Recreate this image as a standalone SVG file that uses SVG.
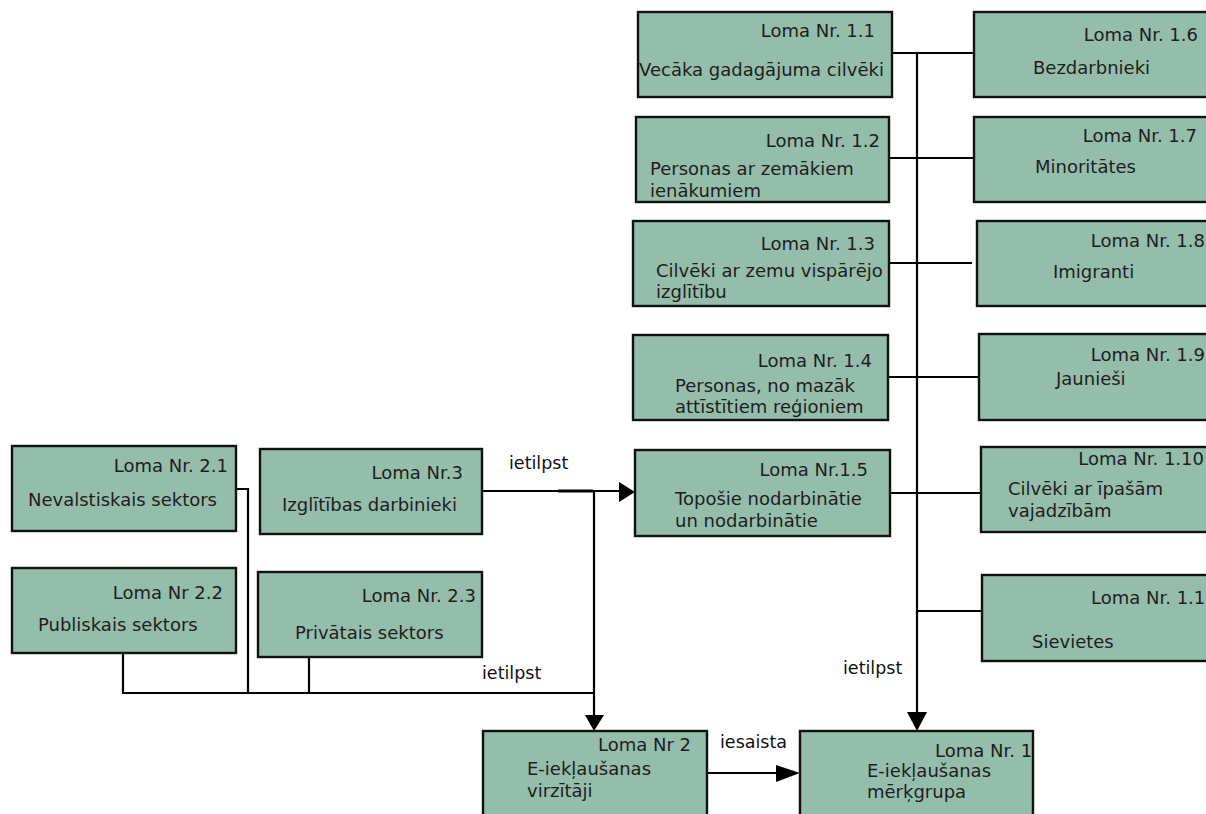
<svg xmlns="http://www.w3.org/2000/svg" width="1206" height="814" viewBox="0 0 1206 814">
  <style>
    .box { fill: #94bdab; stroke: #111; stroke-width: 2.4; }
    .t { font-family: "DejaVu Sans", Verdana, sans-serif; font-size: 18px; fill: #1e1e1e; }
    .r { text-anchor: end; }
    .lbl { font-family: "DejaVu Sans", Verdana, sans-serif; font-size: 17.5px; fill: #111; }
    .ln { fill: none; stroke: #000; stroke-width: 2.2; }
  </style>
  <rect width="1206" height="814" fill="#fff"/>

  <!-- connectors -->
  <g id="connectors">
    <!-- trunk of target-group roles -->
    <path class="ln" d="M917,53 V713"/>
    <path class="ln" d="M892,53 H974"/>
    <path class="ln" d="M889,158 H974"/>
    <path class="ln" d="M889,263 H972"/>
    <path class="ln" d="M888,377 H979"/>
    <path class="ln" d="M890,493 H981"/>
    <path class="ln" d="M917,611 H982"/>
    <polygon points="907,712 927,712 917,731" fill="#000"/>

    <!-- education workers to 1.5 -->
    <path class="ln" d="M482,491 H620"/>
    <path d="M558,491 H593" stroke="#000" stroke-width="3.2"/>
    <polygon points="619,482 635,492 619,502" fill="#000"/>
    <path class="ln" d="M594,491 V716"/>
    <polygon points="585,715 604,715 594,731" fill="#000"/>

    <!-- sectors bus -->
    <path class="ln" d="M236,489 H248 V693"/>
    <path class="ln" d="M123,653 V693 H594"/>
    <path class="ln" d="M309,657 V693"/>

    <!-- promoters engage target group -->
    <path class="ln" d="M707,773 H777"/>
    <polygon points="776,765 800,773 776,782" fill="#000"/>
  </g>

  <!-- connector labels -->
  <g id="labels">
    <text class="lbl" x="509" y="469">ietilpst</text>
    <text class="lbl" x="482" y="679">ietilpst</text>
    <text class="lbl" x="843" y="674">ietilpst</text>
    <text class="lbl" x="720" y="748">iesaista</text>
  </g>

  <g id="n1_1">
    <rect class="box" x="638" y="12" width="254" height="85"/>
    <text class="t r" x="875" y="37">Loma Nr. 1.1</text>
    <text class="t" x="639" y="76">Vecāka gadagājuma cilvēki</text>
  </g>
  <g id="n1_6">
    <rect class="box" x="974" y="12" width="240" height="85"/>
    <text class="t r" x="1198" y="41">Loma Nr. 1.6</text>
    <text class="t" x="1033" y="74">Bezdarbnieki</text>
  </g>
  <g id="n1_2">
    <rect class="box" x="636" y="117" width="253" height="85"/>
    <text class="t r" x="880" y="147">Loma Nr. 1.2</text>
    <text class="t" x="650" y="175">Personas ar zemākiem</text>
    <text class="t" x="650" y="197">ienākumiem</text>
  </g>
  <g id="n1_7">
    <rect class="box" x="974" y="117" width="240" height="85"/>
    <text class="t r" x="1197" y="142">Loma Nr. 1.7</text>
    <text class="t" x="1035" y="173">Minoritātes</text>
  </g>
  <g id="n1_3">
    <rect class="box" x="633" y="221" width="256" height="85"/>
    <text class="t r" x="875" y="250">Loma Nr. 1.3</text>
    <text class="t" x="656" y="277">Cilvēki ar zemu vispārējo</text>
    <text class="t" x="656" y="298">izglītību</text>
  </g>
  <g id="n1_8">
    <rect class="box" x="977" y="221" width="240" height="85"/>
    <text class="t r" x="1205" y="247">Loma Nr. 1.8</text>
    <text class="t" x="1053" y="278">Imigranti</text>
  </g>
  <g id="n1_4">
    <rect class="box" x="633" y="335" width="255" height="85"/>
    <text class="t r" x="872" y="367">Loma Nr. 1.4</text>
    <text class="t" x="675" y="392">Personas, no mazāk</text>
    <text class="t" x="675" y="413">attīstītiem reģioniem</text>
  </g>
  <g id="n1_9">
    <rect class="box" x="979" y="334" width="240" height="86"/>
    <text class="t r" x="1205" y="361">Loma Nr. 1.9</text>
    <text class="t" x="1056" y="385">Jaunieši</text>
  </g>
  <g id="n1_5">
    <rect class="box" x="635" y="450" width="255" height="86"/>
    <text class="t r" x="868" y="476">Loma Nr.1.5</text>
    <text class="t" x="675" y="505">Topošie nodarbinātie</text>
    <text class="t" x="675" y="527">un nodarbinātie</text>
  </g>
  <g id="n1_10">
    <rect class="box" x="981" y="447" width="240" height="85"/>
    <text class="t r" x="1204" y="465">Loma Nr. 1.10</text>
    <text class="t" x="1008" y="495">Cilvēki ar īpašām</text>
    <text class="t" x="1008" y="517">vajadzībām</text>
  </g>
  <g id="n1_11">
    <rect class="box" x="982" y="575" width="240" height="86"/>
    <text class="t" x="1091" y="604">Loma Nr. 1.1</text>
    <text class="t" x="1032" y="648">Sievietes</text>
  </g>
  <g id="n2_1">
    <rect class="box" x="12" y="446" width="224" height="85"/>
    <text class="t r" x="228" y="472">Loma Nr. 2.1</text>
    <text class="t" x="28" y="506">Nevalstiskais sektors</text>
  </g>
  <g id="n3">
    <rect class="box" x="260" y="449" width="222" height="85"/>
    <text class="t r" x="463" y="479">Loma Nr.3</text>
    <text class="t" x="282" y="511">Izglītības darbinieki</text>
  </g>
  <g id="n2_2">
    <rect class="box" x="12" y="568" width="224" height="85"/>
    <text class="t r" x="223" y="599">Loma Nr 2.2</text>
    <text class="t" x="38" y="631">Publiskais sektors</text>
  </g>
  <g id="n2_3">
    <rect class="box" x="258" y="572" width="224" height="85"/>
    <text class="t r" x="476" y="602">Loma Nr. 2.3</text>
    <text class="t" x="295" y="639">Privātais sektors</text>
  </g>
  <g id="n2">
    <rect class="box" x="483" y="731" width="224" height="100"/>
    <text class="t r" x="691" y="751">Loma Nr 2</text>
    <text class="t" x="527" y="775">E-iekļaušanas</text>
    <text class="t" x="527" y="797">virzītāji</text>
  </g>
  <g id="n1">
    <rect class="box" x="800" y="731" width="233" height="100"/>
    <text class="t" x="935" y="757">Loma Nr. 1</text>
    <text class="t" x="867" y="777">E-iekļaušanas</text>
    <text class="t" x="867" y="798">mērķgrupa</text>
  </g>
</svg>
